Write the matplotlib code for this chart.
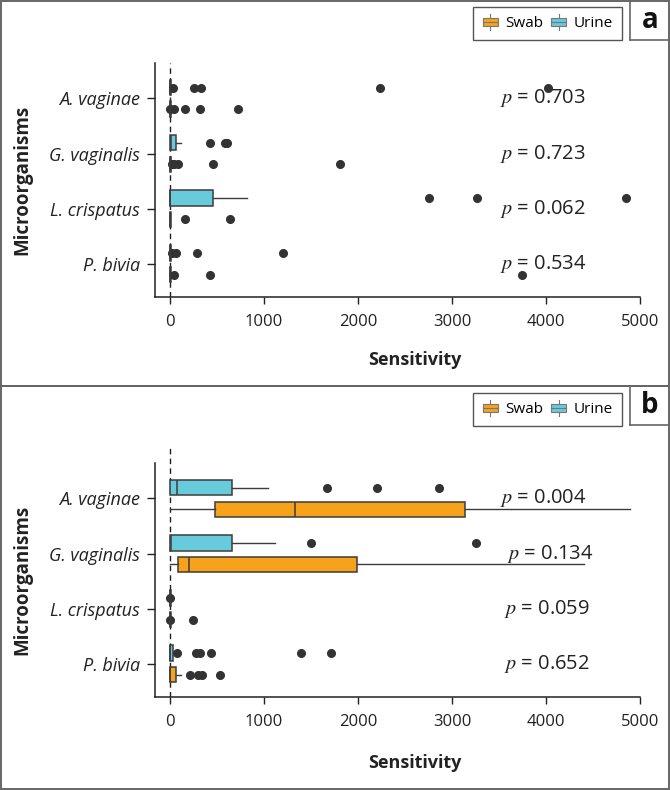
import matplotlib
matplotlib.use("Agg")
import matplotlib.pyplot as plt
from matplotlib.patches import Rectangle
from matplotlib.lines import Line2D
from matplotlib.legend_handler import HandlerBase

plt.rcParams['font.family'] = ['Open Sans', 'DejaVu Sans']
plt.rcParams['mathtext.fontset'] = 'stix'

organisms = ['A. vaginae', 'G. vaginalis', 'L. crispatus', 'P. bivia']

# panel a - box stats
a_urine_q1 = [0, 0, 0, 0]
a_urine_med = [0, 5, 0, 0]
a_urine_q3 = [10, 62, 461, 10]
a_urine_lo = [0, 0, 0, 0]
a_urine_hi = [15, 120, 818, 15]
a_urine_out = [[30, 250, 325, 2235, 4023], [425, 580, 605], [2750, 3267, 4854], [25, 60, 285, 1202]]

a_swab_q1 = [0, 0, 0, 0]
a_swab_med = [0, 0, 0, 0]
a_swab_q3 = [10, 10, 5, 10]
a_swab_lo = [0, 0, 0, 0]
a_swab_hi = [15, 15, 5, 15]
a_swab_out = [[0, 40, 160, 315, 725], [20, 45, 90, 455, 1805], [163, 634], [40, 425, 3747]]

a_pvals = ['0.703', '0.723', '0.062', '0.534']

# panel b
b_urine_q1 = [4, 0, 0, 0]
b_urine_med = [69, 10, 0, 0]
b_urine_q3 = [662, 662, 5, 36]
b_urine_lo = [0, 0, 0, 0]
b_urine_hi = [1040, 1120, 5, 36]
b_urine_out = [[1670, 2203, 2860], [1505, 3250], [0], [77, 278, 314, 437, 1390, 1713]]

b_swab_q1 = [479, 87, 0, 0]
b_swab_med = [1325, 202, 0, 0]
b_swab_q3 = [3142, 1988, 5, 61]
b_swab_lo = [0, 0, 0, 0]
b_swab_hi = [4898, 4400, 5, 112]
b_swab_out = [[], [], [0, 239], [213, 299, 335, 529]]

b_pvals = ['0.004', '0.134', '0.059', '0.652']

xticks = [0, 1000, 2000, 3000, 4000, 5000]

SWAB = '#f7a21b'
URINE = '#67cbdc'
EDGE = '#3c3c3c'
W, H = 670, 790


def stats(q1, med, q3, lo, hi, out):
	return [dict(q1=q1[i], med=med[i], q3=q3[i], whislo=lo[i], whishi=hi[i], fliers=out[i])
			for i in range(len(q1))]


class BoxHandler(HandlerBase):
	def create_artists(self, legend, orig_handle, xdescent, ydescent, width, height, fontsize, trans):
		cx = -xdescent + width / 2
		cy = -ydescent + height / 2
		bw, bh = width * 0.95, height * 0.8
		r = Rectangle((cx - bw / 2, cy - bh / 2), bw, bh, facecolor=orig_handle.get_facecolor(),
					  edgecolor='#777777', lw=0.8, transform=trans)
		v = Line2D([cx, cx], [cy - height * 0.85, cy + height * 0.85], color='#777777', lw=0.8, transform=trans)
		m = Line2D([cx - bw / 2, cx + bw / 2], [cy, cy], color='#777777', lw=0.8, transform=trans)
		return [v, r, m]


fig = plt.figure(figsize=(6.7, 7.9), dpi=100)


def panel(top_px, bot_px, spine_top_px, ylim_top, urine, swab, pvals, pxs, letter, panel_top, legend_top, label_y):
	ax = fig.add_axes([155 / W, 1 - bot_px / H, 485 / W, (bot_px - top_px) / H])
	pos = list(range(4))
	common = dict(widths=0.28, orientation='horizontal', patch_artist=True, showcaps=False,
				  boxprops=dict(edgecolor=EDGE, linewidth=1.1),
				  medianprops=dict(color=EDGE, linewidth=1.1),
				  whiskerprops=dict(color=EDGE, linewidth=1.0),
				  flierprops=dict(marker='o', markerfacecolor='#333333', markeredgecolor='#333333', markersize=5.5))
	bu = ax.bxp(urine, positions=[p - 0.195 for p in pos], **common)
	bs = ax.bxp(swab, positions=[p + 0.195 for p in pos], **common)
	for b in bu['boxes']:
		b.set_facecolor(URINE)
	for b in bs['boxes']:
		b.set_facecolor(SWAB)

	ax.axvline(0, color='#222222', lw=1.0, ls=(0, (4, 3)), zorder=0)
	ax.set_xlim(-160, 5000)
	ax.set_ylim(3.6, ylim_top)
	ax.set_xticks(xticks)
	ax.set_xticklabels([str(t) for t in xticks], fontsize=12, color='#222222')
	ax.set_yticks(pos)
	ax.set_yticklabels(organisms, fontsize=13, fontstyle='italic', color='#222222')
	ax.tick_params(axis='x', length=5, width=1, pad=7, color='#222222')
	ax.tick_params(axis='y', length=6, width=1, pad=5, color='#222222')
	for s in ['top', 'right']:
		ax.spines[s].set_visible(False)
	for s in ['left', 'bottom']:
		ax.spines[s].set_linewidth(1.1)
		ax.spines[s].set_color('#222222')
	# left spine starts a bit lower than the dashed zero line in panel b
	y_sp = ylim_top + (spine_top_px - top_px) / 55.2
	ax.spines['left'].set_bounds(3.6, y_sp)

	for i, p in enumerate(pvals):
		ax.text(pxs[i], i, r'$p$ = ' + p, fontsize=14.5, va='center', ha='left', color='#222222')

	ax.text((415 - 155) / 485, label_y, 'Sensitivity', transform=ax.transAxes, fontsize=13,
			fontweight='bold', ha='center', va='center', color='#222222')
	ax.set_ylabel('Microorganisms', fontsize=13.5, fontweight='bold', color='#222222')
	ax.yaxis.set_label_coords((22 - 155) / 485, (bot_px - (spine_top_px + bot_px) / 2) / (bot_px - top_px))
	ax.yaxis.label.set_verticalalignment('center')

	# legend
	hs = [Rectangle((0, 0), 1, 1, facecolor=SWAB), Rectangle((0, 0), 1, 1, facecolor=URINE)]
	fig.legend(hs, ['Swab', 'Urine'], handler_map={Rectangle: BoxHandler()}, ncol=2,
			   loc='upper right', bbox_to_anchor=(622 / W, 1 - legend_top / H), bbox_transform=fig.transFigure,
			   fontsize=11, frameon=True, fancybox=False, edgecolor='#555555', framealpha=1,
			   handlelength=1.05, handleheight=0.6, handletextpad=0.45, columnspacing=0.5,
			   borderpad=0.6, borderaxespad=0)

	# panel frame and letter box
	fig.add_artist(Rectangle((0.002, 1 - panel_top[1] / H), 0.996, (panel_top[1] - panel_top[0]) / H,
							 transform=fig.transFigure, fill=False, edgecolor='#666666', lw=1.4))
	lx = 630 / W
	ly = 1 - (panel_top[0] + 39) / H
	fig.add_artist(Line2D([lx, lx], [ly, 1 - panel_top[0] / H], transform=fig.transFigure, color='#666666', lw=1.2))
	fig.add_artist(Line2D([lx, 1], [ly, ly], transform=fig.transFigure, color='#666666', lw=1.2))
	fig.text((lx + 1) / 2, ly + 19.5 / H, letter, fontsize=20, fontweight='bold', ha='center', va='center', color='#111111')
	return ax


panel(63, 297, 63, -0.64,
	  stats(a_urine_q1, a_urine_med, a_urine_q3, a_urine_lo, a_urine_hi, a_urine_out),
	  stats(a_swab_q1, a_swab_med, a_swab_q3, a_swab_lo, a_swab_hi, a_swab_out),
	  a_pvals, [3510, 3510, 3510, 3510], 'a', (1, 386), 7, -0.27)

panel(445, 697, 463, -0.97,
	  stats(b_urine_q1, b_urine_med, b_urine_q3, b_urine_lo, b_urine_hi, b_urine_out),
	  stats(b_swab_q1, b_swab_med, b_swab_q3, b_swab_lo, b_swab_hi, b_swab_out),
	  b_pvals, [3510, 3580, 3550, 3550], 'b', (386, 789), 393, -0.26)

plt.savefig('out.png', dpi=100)
